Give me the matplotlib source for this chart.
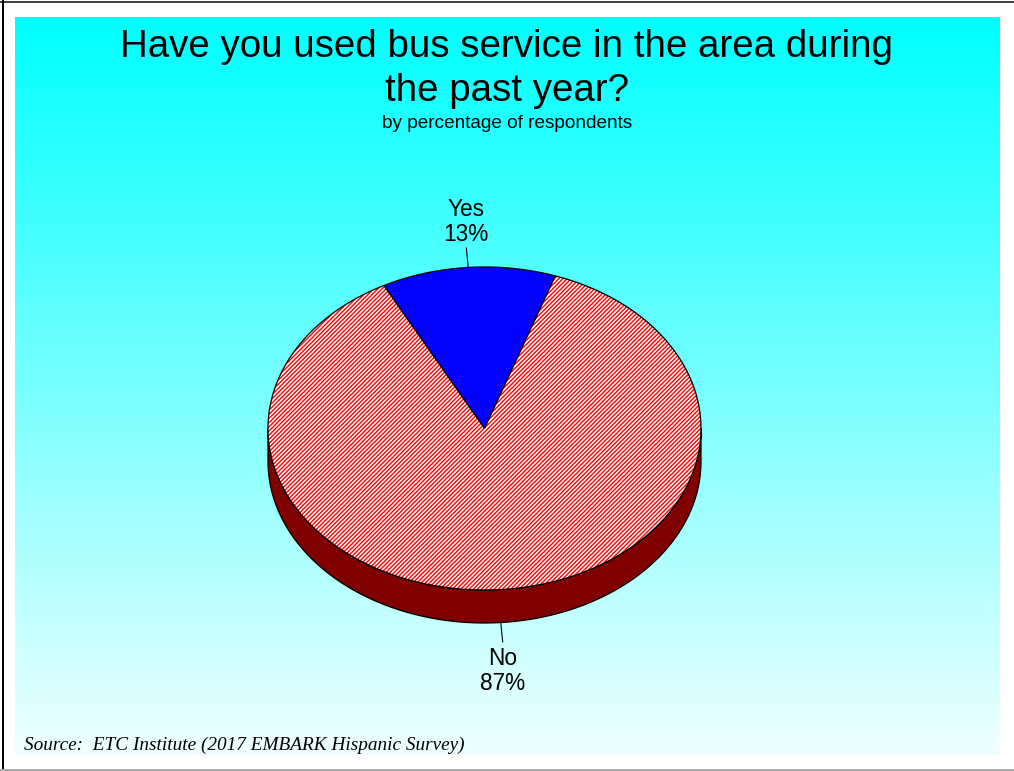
import numpy as np
import matplotlib
matplotlib.use('Agg')
import matplotlib.pyplot as plt
from matplotlib.patches import Polygon, Rectangle

#---------------------------------- DATA -----------------------------------
labels = ['Yes', 'No']
values = [13, 87]
top_colors = ['#0000FF', 'white']
hatches = [None, '////////']
side_colors = ['#00008B', '#800000']

title = 'Have you used bus service in the area during\nthe past year?'
subtitle = 'by percentage of respondents'
source = 'Source:  ETC Institute (2017 EMBARK Hispanic Survey)'

#---------------------------------- SETTING -----------------------------------
W, H = 1014, 771
cx, cy = 484.5, 428.5     # centre of pie top (pixels)
rx, ry = 216.5, 161.5     # ellipse radii
depth = 33                # thickness of pie
start_angle = 70.9        # degrees, counter-clockwise from 3 o'clock

plt.rcParams['hatch.linewidth'] = 1.0
fig = plt.figure(figsize=(W / 100, H / 100), dpi=100)
ax = fig.add_axes([0, 0, 1, 1])
ax.set_xlim(0, W)
ax.set_ylim(H, 0)
ax.axis('off')

# background gradient, cyan to pale
n = 256
t = np.linspace(0, 1, n)[:, None]
grad = np.dstack([0.94 * t, np.ones_like(t), np.ones_like(t)])
ax.imshow(grad, extent=[15, 1000, 755, 17], aspect='auto', interpolation='bilinear', zorder=0)

# frame lines
ax.add_patch(Rectangle((0, 0.5), W, 2, color='#444444', lw=0, zorder=1))
ax.add_patch(Rectangle((1.5, 0), 2, H, color='black', lw=0, zorder=1))
ax.add_patch(Rectangle((0, 768.5), W, 2, color='#aaaaaa', lw=0, zorder=1))


def ell(theta, dz=0.0):
    r = np.radians(theta)
    return np.column_stack([cx + rx * np.cos(r), cy - ry * np.sin(r) + dz])


fracs = np.array(values, dtype=float) / sum(values)
bounds = start_angle + 360 * np.concatenate([[0], np.cumsum(fracs)])

# side wall (front half only)
for i in range(len(values)):
    a0, a1 = bounds[i], bounds[i + 1]
    for k in (0, 360):
        lo, hi = max(a0, 180 + k), min(a1, 360 + k)
        if hi <= lo:
            continue
        th = np.linspace(lo, hi, 200)
        pts = np.vstack([ell(th), ell(th[::-1], depth)])
        ax.add_patch(Polygon(pts, closed=True, fc=side_colors[i], ec='black', lw=0.9, zorder=2))

# top faces
for i in range(len(values)):
    th = np.linspace(bounds[i], bounds[i + 1], 400)
    pts = np.vstack([[cx, cy], ell(th)])
    if hatches[i]:
        ax.add_patch(Polygon(pts, closed=True, fc='white', ec='red', lw=0, hatch=hatches[i], zorder=3))
        ax.add_patch(Polygon(pts, closed=True, fill=False, ec='black', lw=0.9, zorder=4))
    else:
        ax.add_patch(Polygon(pts, closed=True, fc=top_colors[i], ec='black', lw=0.9, zorder=3))

# labels with leader lines
for i in range(len(values)):
    mid = (bounds[i] + bounds[i + 1]) / 2
    r = np.radians(mid)
    below = np.sin(r) < 0
    dz = depth if below else 0
    x0, y0 = cx + rx * np.cos(r), cy - ry * np.sin(r) + dz
    x1, y1 = cx + rx * 1.12 * np.cos(r), cy - ry * 1.12 * np.sin(r) + dz
    ax.plot([x0, x1], [y0, y1], color='black', lw=0.8, zorder=5)
    txt = '%s\n%d%%' % (labels[i], values[i])
    if below:
        ax.text(x1, y1 + 5, txt, ha='center', va='top', fontsize=16.3,
                family='Liberation Sans', linespacing=1.12, zorder=6)
    else:
        ax.text(x1, y1 - 2, txt, ha='center', va='bottom', fontsize=16.3,
                family='Liberation Sans', linespacing=1.12, zorder=6)

ax.text(507, 69, title, ha='center', va='center', fontsize=27.7,
        family='Liberation Sans', linespacing=1.3, zorder=6)
ax.text(507, 123, subtitle, ha='center', va='center', fontsize=13.7,
        family='Liberation Sans', zorder=6)
ax.text(24, 745, source, ha='left', va='center', fontsize=13.9,
        family='Liberation Serif', style='italic', zorder=6)

fig.savefig('out.png', dpi=100)
